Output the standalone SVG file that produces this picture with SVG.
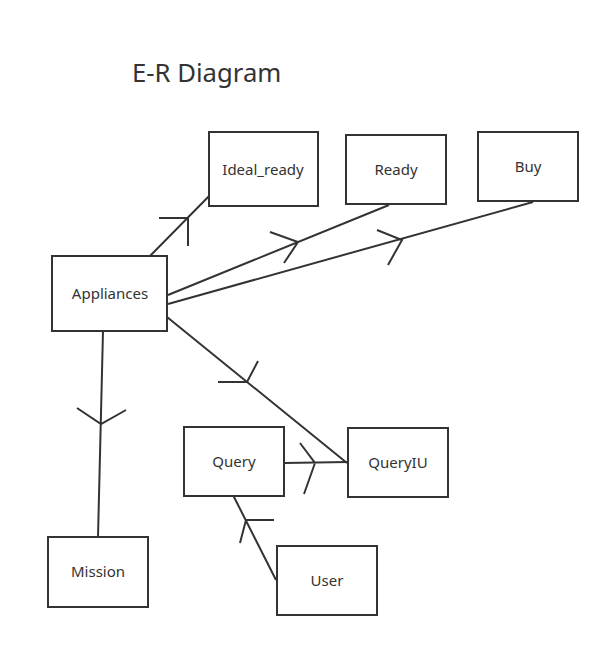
<svg xmlns="http://www.w3.org/2000/svg" width="610" height="648" viewBox="0 0 610 648">
<style>
.box{fill:#fff;stroke:#333;stroke-width:2}
.lbl{font-family:"Noto Sans","Open Sans",sans-serif;font-size:15px;fill:#333;text-anchor:middle}
.ttl{font-family:"Noto Sans","Open Sans",sans-serif;font-size:25.7px;fill:#333}
.ln{stroke:#333;stroke-width:2;fill:none}
</style>
<rect width="610" height="648" fill="#fff"/>
<text class="ttl" x="132" y="82">E-R Diagram</text>
<g id="connectors">
<path class="ln" d="M219,186 L150,256 M159,218 L188,218 L188,246"/>
<path class="ln" d="M389,205 L168,295 M270,232 L298,242 L284,263"/>
<path class="ln" d="M533,202 L168,304 M377,230 L402,240 L388,265"/>
<path class="ln" d="M167,317 L347,463 M218,382 L247,382 L258,361"/>
<path class="ln" d="M284,463 L348,462 M300,443 L315,463 L304,494"/>
<path class="ln" d="M103,331 L98,537 M77,408 L101,424 L126,410"/>
<path class="ln" d="M233,495 L276,580 M274,520 L246,520 L240,543"/>
</g>
<g id="ideal_ready"><rect class="box" x="209" y="132" width="109" height="74"/><text class="lbl" x="263" y="175">Ideal_ready</text></g>
<g id="ready"><rect class="box" x="346" y="135" width="100" height="69"/><text class="lbl" x="396" y="175">Ready</text></g>
<g id="buy"><rect class="box" x="478" y="132" width="100" height="69"/><text class="lbl" x="528" y="172">Buy</text></g>
<g id="appliances"><rect class="box" x="52" y="256" width="115" height="75"/><text class="lbl" x="110" y="299">Appliances</text></g>
<g id="query"><rect class="box" x="184" y="427" width="100" height="69"/><text class="lbl" x="234" y="467">Query</text></g>
<g id="queryiu"><rect class="box" x="348" y="428" width="100" height="69"/><text class="lbl" x="398" y="468">QueryIU</text></g>
<g id="mission"><rect class="box" x="48" y="537" width="100" height="70"/><text class="lbl" x="98" y="577">Mission</text></g>
<g id="user"><rect class="box" x="277" y="546" width="100" height="69"/><text class="lbl" x="327" y="586">User</text></g>
</svg>
